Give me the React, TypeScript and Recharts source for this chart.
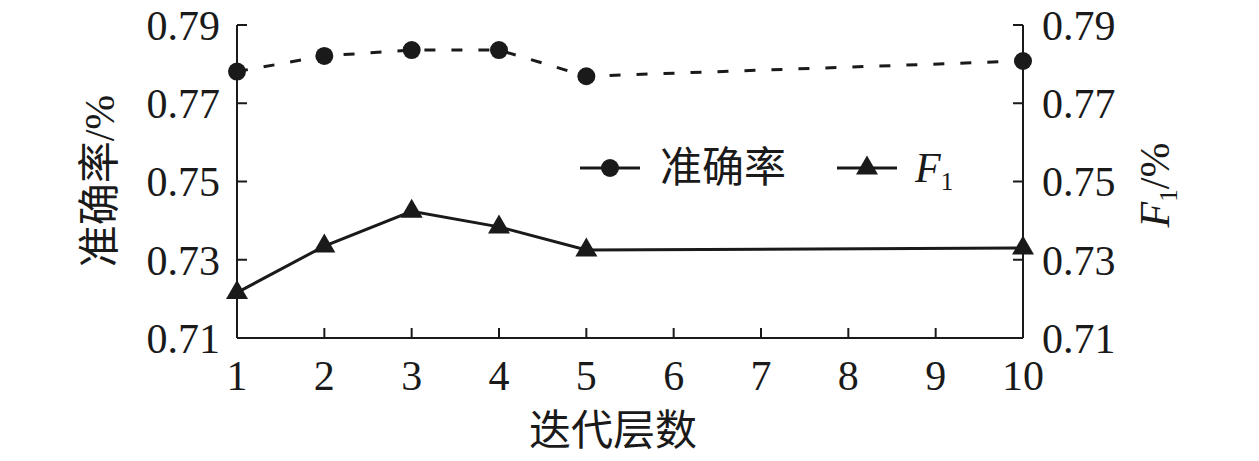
import React from 'react';
import { ComposedChart, Line, XAxis, YAxis, Legend } from 'recharts';

// values
const layers = [1, 2, 3, 4, 5, 10];
const accuracy = [0.7781, 0.7821, 0.7836, 0.7836, 0.7769, 0.7808];
const f1 = [0.7216, 0.7335, 0.7424, 0.7384, 0.7325, 0.733];
const xTicks = [1, 2, 3, 4, 5, 6, 7, 8, 9, 10];
const yTicks = [0.71, 0.73, 0.75, 0.77, 0.79];
const accuracyName = '准确率';
const f1Name = 'F1';
const xTitle = '迭代层数';
const leftTitle = '准确率/%';

const INK = '#1a1a1a';
const FONT = '"Liberation Serif", "Times New Roman", "Noto Sans CJK SC", serif';
const FS = 42;

const data = layers.map((layer, i) => ({ layer, accuracy: accuracy[i], f1: f1[i] }));

const CircleDot = (props: any) => {
  const { cx, cy, index } = props;
  if (cx == null || cy == null) return null;
  return <circle key={`c${index}`} cx={cx} cy={cy} r={9} fill={INK} />;
};

const TriangleDot = (props: any) => {
  const { cx, cy, index } = props;
  if (cx == null || cy == null) return null;
  return (
    <polygon
      key={`t${index}`}
      points={`${cx},${cy - 12.5} ${cx + 11},${cy + 6.5} ${cx - 11},${cy + 6.5}`}
      fill={INK}
    />
  );
};

// F with subscript 1
const F1Text = ({ size }: { size: number }) => (
  <>
    <tspan fontStyle="italic">F</tspan>
    <tspan fontSize={size * 0.6} dy={size * 0.18}>1</tspan>
  </>
);

const LegendContent = () => (
  <svg width={420} height={60} style={{ display: 'block' }}>
    <line x1={0} y1={28} x2={60} y2={28} stroke={INK} strokeWidth={3} />
    <circle cx={30} cy={28} r={9} fill={INK} />
    <text x={80} y={28} dominantBaseline="central" fontSize={FS} fontFamily={FONT} fill={INK}>
      {accuracyName}
    </text>
    <line x1={257} y1={28} x2={317} y2={28} stroke={INK} strokeWidth={3} />
    <polygon points="287,15.5 298,34.5 276,34.5" fill={INK} />
    <text x={335} y={42} fontSize={FS} fontFamily={FONT} fill={INK}>
      <F1Text size={FS} />
    </text>
  </svg>
);

const XTitle = (props: any) => {
  const { viewBox } = props;
  return (
    <text
      x={viewBox.x + 376}
      y={431}
      textAnchor="middle"
      dominantBaseline="central"
      fontSize={FS}
      fontFamily={FONT}
      fill={INK}
    >
      {xTitle}
    </text>
  );
};

const LeftTitle = (props: any) => {
  const { viewBox } = props;
  const cx = viewBox.x + 100;
  const cy = 181;
  return (
    <text
      x={cx}
      y={cy}
      transform={`rotate(-90, ${cx}, ${cy})`}
      textAnchor="middle"
      dominantBaseline="central"
      fontSize={FS}
      fontFamily={FONT}
      fill={INK}
    >
      {leftTitle}
    </text>
  );
};

const RightTitle = (props: any) => {
  const { viewBox } = props;
  const cx = viewBox.x + 132;
  const cy = 185;
  return (
    <text
      x={cx}
      y={cy + 14}
      transform={`rotate(-90, ${cx}, ${cy})`}
      textAnchor="middle"
      fontSize={FS}
      fontFamily={FONT}
      fill={INK}
    >
      <F1Text size={FS} />
      <tspan dy={-FS * 0.18}>/%</tspan>
    </text>
  );
};

const tickStyle = { fill: INK, fontSize: FS, fontFamily: FONT };
const axisStroke = { stroke: INK, strokeWidth: 2 };

export default function App() {
  return (
    <div style={{ position: 'absolute', left: 0, top: 0, background: '#fff' }}>
      <ComposedChart
        width={1259}
        height={461}
        data={data}
        margin={{ top: 25, right: 0, left: 0, bottom: 0 }}
      >
        <XAxis
          dataKey="layer"
          type="number"
          domain={[1, 10]}
          ticks={xTicks}
          interval={0}
          height={123}
          tick={tickStyle}
          tickSize={-10}
          tickMargin={32}
          axisLine={axisStroke}
          tickLine={axisStroke}
          label={XTitle}
        />
        <YAxis
          yAxisId="left"
          orientation="left"
          domain={[0.71, 0.79]}
          ticks={yTicks}
          interval={0}
          width={237}
          tick={tickStyle}
          tickSize={-10}
          tickMargin={27}
          tickFormatter={(v: number) => v.toFixed(2)}
          axisLine={axisStroke}
          tickLine={axisStroke}
          label={LeftTitle}
        />
        <YAxis
          yAxisId="right"
          orientation="right"
          domain={[0.71, 0.79]}
          ticks={yTicks}
          interval={0}
          width={236}
          tick={tickStyle}
          tickSize={-10}
          tickMargin={29}
          tickFormatter={(v: number) => v.toFixed(2)}
          axisLine={axisStroke}
          tickLine={axisStroke}
          label={RightTitle}
        />
        <Legend
          layout="horizontal"
          verticalAlign="middle"
          content={LegendContent}
          wrapperStyle={{ position: 'absolute', left: 580, top: 140, width: 420, height: 60 }}
        />
        <Line
          yAxisId="left"
          dataKey="accuracy"
          name={accuracyName}
          stroke={INK}
          strokeWidth={3}
          strokeDasharray="11 16"
          dot={CircleDot}
          activeDot={false}
          isAnimationActive={false}
        />
        <Line
          yAxisId="right"
          dataKey="f1"
          name={f1Name}
          stroke={INK}
          strokeWidth={3}
          dot={TriangleDot}
          activeDot={false}
          isAnimationActive={false}
        />
      </ComposedChart>
    </div>
  );
}
